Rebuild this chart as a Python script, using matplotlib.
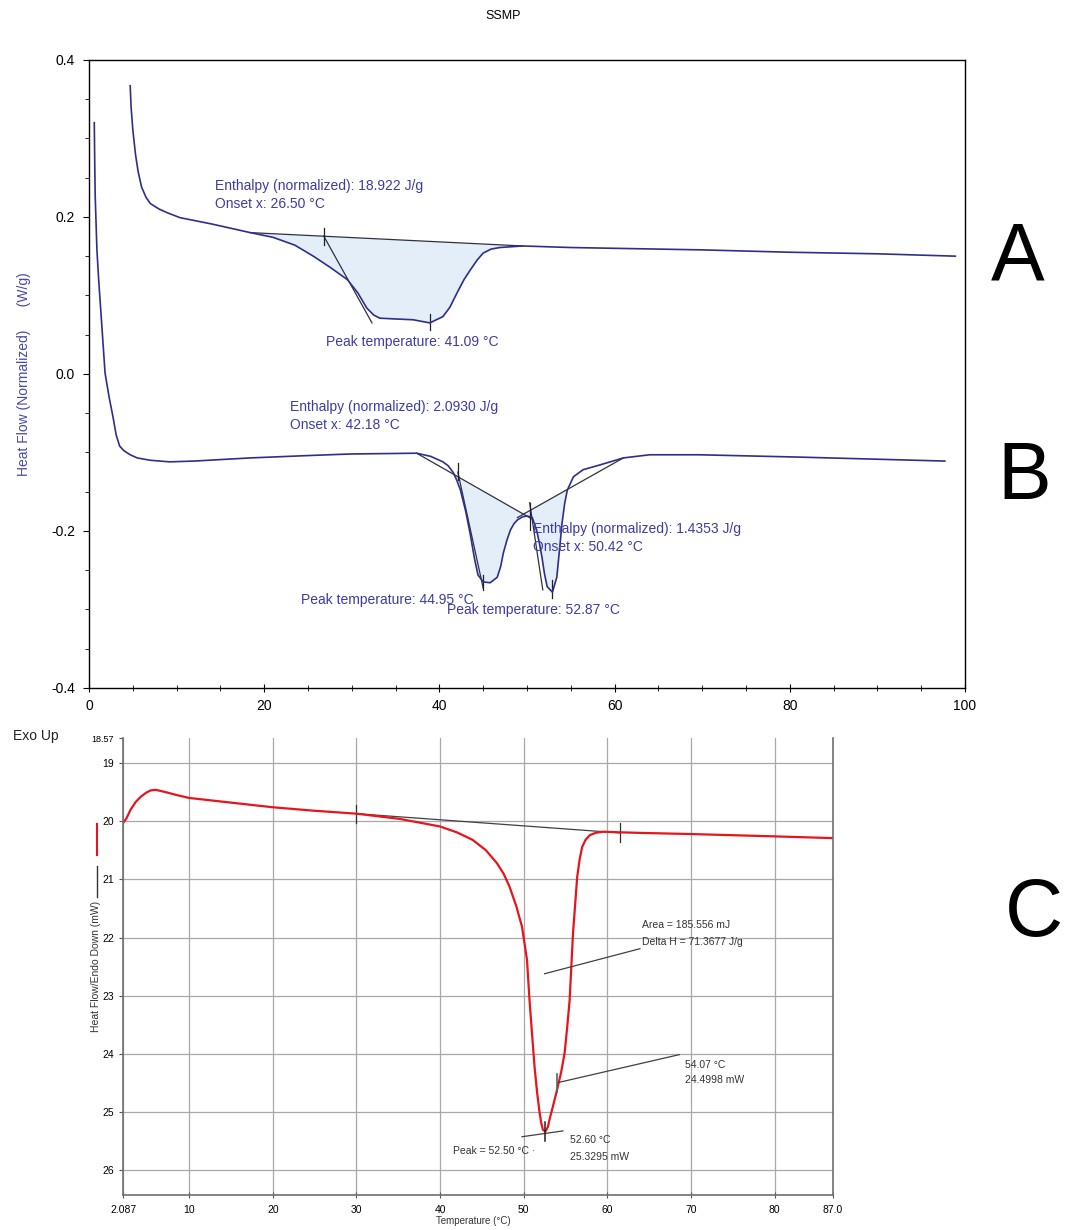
import numpy as np
import matplotlib
matplotlib.use("Agg")
import matplotlib.pyplot as plt
from matplotlib.lines import Line2D

plt.rcParams['font.family'] = ['Liberation Sans', 'DejaVu Sans']

# ---- top panel: SSMP, normalized heat flow (W/g) ----
a_temp = [4.7, 4.8, 5.0, 5.3, 5.6, 6.0, 6.5, 7.0, 8.0, 9.0, 10.4, 14.0, 18.4, 21.0,
          23.5, 25.6, 27.5, 29.5, 30.7, 31.7, 32.5, 33.2, 35.0, 37.0, 38.9, 40.4,
          41.2, 42.0, 42.8, 43.5, 44.3, 45.0, 45.9, 46.9, 49.5, 55.0, 60.0, 70.0,
          80.0, 90.0, 98.9]
a_flow = [0.367, 0.340, 0.311, 0.280, 0.258, 0.238, 0.225, 0.217, 0.210, 0.205, 0.199,
          0.191, 0.180, 0.174, 0.164, 0.150, 0.136, 0.120, 0.103, 0.084, 0.075, 0.071,
          0.070, 0.069, 0.065, 0.073, 0.085, 0.103, 0.120, 0.132, 0.145, 0.154, 0.159,
          0.161, 0.163, 0.161, 0.160, 0.158, 0.155, 0.153, 0.150]
a_base_x = [18.4, 49.5]
a_base_y = [0.180, 0.163]
a_tangent_x = [26.8, 32.3]
a_tangent_y = [0.1755, 0.065]

b_temp = [0.6, 0.65, 0.7, 0.9, 1.1, 1.26, 1.5, 1.83, 2.3, 2.74, 3.1, 3.5, 4.0, 4.7,
          5.5, 7.0, 9.2, 12.0, 18.4, 25.0, 29.8, 37.4, 39.0, 40.4, 41.0, 41.6, 42.0,
          42.4, 43.0, 43.5, 44.0, 44.4, 45.0, 45.8, 46.6, 47.0, 47.3, 47.7, 48.1, 48.5,
          48.9, 49.5, 50.0, 50.6, 51.1, 51.4, 51.7, 52.0, 52.3, 52.9, 53.4, 53.7, 54.0,
          54.3, 54.6, 55.3, 56.4, 58.3, 61.0, 64.0, 69.7, 81.2, 97.7]
b_flow = [0.320, 0.270, 0.228, 0.158, 0.120, 0.094, 0.055, 0.001, -0.030, -0.055,
          -0.078, -0.092, -0.098, -0.103, -0.107, -0.110, -0.112, -0.111, -0.107,
          -0.104, -0.102, -0.101, -0.105, -0.112, -0.117, -0.126, -0.136, -0.148,
          -0.175, -0.203, -0.235, -0.256, -0.265, -0.266, -0.259, -0.245, -0.228,
          -0.212, -0.199, -0.191, -0.186, -0.182, -0.181, -0.183, -0.199, -0.215,
          -0.233, -0.255, -0.271, -0.278, -0.259, -0.225, -0.190, -0.165, -0.148,
          -0.131, -0.122, -0.116, -0.107, -0.103, -0.103, -0.106, -0.111]
b1_base_x = [37.4, 50.6]
b1_base_y = [-0.101, -0.185]
b2_base_x = [48.9, 61.0]
b2_base_y = [-0.183, -0.107]
b1_tangent_x = [42.1, 45.0]
b1_tangent_y = [-0.125, -0.273]
b2_tangent_x = [50.3, 51.8]
b2_tangent_y = [-0.164, -0.275]

# small vertical marks (x, y_low, y_high)
top_marks = [(26.8, 0.164, 0.186), (38.9, 0.056, 0.076),
             (42.1, -0.135, -0.113), (45.0, -0.275, -0.256),
             (50.3, -0.199, -0.164), (52.9, -0.285, -0.262)]

# ---- bottom panel: DSC, heat flow (mW) ----
c_temp = [2.09, 2.5, 3.0, 3.6, 4.2, 4.85, 5.4, 6.0, 7.2, 8.5, 10.0, 15.0, 20.0, 25.0,
          30.0, 35.2, 40.0, 42.0, 43.9, 45.5, 46.8, 47.6, 48.3, 49.1, 49.8, 50.4, 50.7,
          51.0, 51.3, 51.6, 51.9, 52.1, 52.3, 52.6, 52.9, 53.1, 53.5, 54.0, 54.5, 54.9,
          55.2, 55.5, 55.7, 55.9, 56.2, 56.4, 56.7, 57.0, 57.4, 57.9, 58.6, 59.5, 61.5,
          63.9, 70.0, 80.0, 87.0]
c_flow = [20.03, 19.95, 19.80, 19.67, 19.58, 19.51, 19.47, 19.46, 19.50, 19.55, 19.60,
          19.68, 19.76, 19.82, 19.87, 19.96, 20.09, 20.19, 20.32, 20.50, 20.72, 20.90,
          21.12, 21.45, 21.81, 22.38, 23.07, 23.65, 24.21, 24.65, 25.00, 25.18, 25.30,
          25.33, 25.25, 25.12, 24.90, 24.61, 24.30, 23.98, 23.55, 23.07, 22.50, 21.93,
          21.35, 20.96, 20.65, 20.44, 20.32, 20.24, 20.20, 20.18, 20.19, 20.20, 20.22,
          20.26, 20.29]
c_base_x = [30.0, 61.5]
c_base_y = [19.87, 20.20]
c_xticks = [2.087, 10, 20, 30, 40, 50, 60, 70, 80, 87.0]
c_xticklabels = ['2.087', '10', '20', '30', '40', '50', '60', '70', '80', '87.0']
c_yticks = [18.57, 19, 20, 21, 22, 23, 24, 25, 26]
c_yticklabels = ['18.57', '19', '20', '21', '22', '23', '24', '25', '26']

navy = '#2e2e8e'
txt_blue = '#3c3ca4'
fill_col = '#e4eef9'

fig = plt.figure(figsize=(10.65, 12.3), dpi=100)

# ================= top panel =================
ax1 = fig.add_axes([0.0836, 0.4407, 0.8225, 0.5106])
a_t = np.array(a_temp)
a_f = np.array(a_flow)
b_t = np.array(b_temp)
b_f = np.array(b_flow)

m = (a_t >= a_base_x[0]) & (a_t <= a_base_x[1])
ax1.fill_between(a_t[m], a_f[m], np.interp(a_t[m], a_base_x, a_base_y),
                 color=fill_col, lw=0)
b_base = np.where(b_t < 50.0, np.interp(b_t, b1_base_x, b1_base_y),
                  np.interp(b_t, b2_base_x, b2_base_y))
mb = (b_t >= b1_base_x[0]) & (b_t <= b2_base_x[1])
ax1.fill_between(b_t, b_f, b_base, where=mb & (b_f <= b_base + 1e-4),
                 color=fill_col, lw=0, interpolate=True)

# baselines / tangents
for xs, ys in [(a_base_x, a_base_y), (a_tangent_x, a_tangent_y),
               (b1_base_x, b1_base_y), (b2_base_x, b2_base_y),
               (b1_tangent_x, b1_tangent_y), (b2_tangent_x, b2_tangent_y)]:
    ax1.plot(xs, ys, color='#303040', lw=0.9)
for x, y0, y1 in top_marks:
    ax1.plot([x, x], [y0, y1], color='#202020', lw=0.9)

ax1.plot(a_temp, a_flow, color=navy, lw=1.2)
ax1.plot(b_temp, b_flow, color=navy, lw=1.2)

ax1.set_xlim(0, 100)
ax1.set_ylim(-0.4, 0.4)
ax1.set_xticks(np.arange(0, 101, 20))
ax1.set_xticks(np.arange(0, 101, 5), minor=True)
ax1.set_yticks([-0.4, -0.2, 0.0, 0.2, 0.4])
ax1.set_yticklabels(['-0.4', '-0.2', '0.0', '0.2', '0.4'])
ax1.set_yticks(np.arange(-0.4, 0.41, 0.05), minor=True)
ax1.tick_params(axis='x', which='major', direction='inout', length=6, labelsize=10, pad=5)
ax1.tick_params(axis='x', which='minor', direction='inout', length=5)
ax1.tick_params(axis='y', which='major', direction='out', length=4, labelsize=10, pad=6)
ax1.tick_params(axis='y', which='minor', direction='out', length=3)
for s in ax1.spines.values():
    s.set_linewidth(1.0)
ax1.set_ylabel('Heat Flow (Normalized)      (W/g)', color='#4848aa', fontsize=10)
ax1.yaxis.set_label_coords(-0.066, 0.5)

fs_ann = 10
ax1.text(14.4, 0.248, 'Enthalpy (normalized): 18.922 J/g\nOnset x: 26.50 °C',
         color=txt_blue, fontsize=fs_ann, va='top', linespacing=1.35)
ax1.text(27.1, 0.041, 'Peak temperature: 41.09 °C', color=txt_blue,
         fontsize=fs_ann, va='center')
ax1.text(22.9, -0.033, 'Enthalpy (normalized): 2.0930 J/g\nOnset x: 42.18 °C',
         color=txt_blue, fontsize=fs_ann, va='top', linespacing=1.35)
ax1.text(50.7, -0.189, 'Enthalpy (normalized): 1.4353 J/g\nOnset x: 50.42 °C',
         color=txt_blue, fontsize=fs_ann, va='top', linespacing=1.35)
ax1.text(24.2, -0.288, 'Peak temperature: 44.95 °C', color=txt_blue,
         fontsize=fs_ann, va='center')
ax1.text(40.9, -0.301, 'Peak temperature: 52.87 °C', color=txt_blue,
         fontsize=fs_ann, va='center')

# ================= bottom panel =================
ax2 = fig.add_axes([0.1155, 0.0285, 0.6667, 0.3715])
ax2.set_xlim(2.087, 87.0)
ax2.set_ylim(26.42, 18.57)
ax2.set_xticks(c_xticks)
ax2.set_xticklabels(c_xticklabels)
ax2.set_yticks(c_yticks)
ax2.set_yticklabels(c_yticklabels)
ax2.grid(True, color='#a8a8a8', lw=0.9)
ax2.get_ygridlines()[0].set_visible(False)
ax2.set_axisbelow(True)
ax2.spines['top'].set_visible(False)
for s in ['left', 'bottom', 'right']:
    ax2.spines[s].set_color('#707070')
    ax2.spines[s].set_linewidth(1.2)
ax2.tick_params(axis='both', labelsize=7.5, color='#555555', length=3)
ax2.tick_params(axis='x', direction='inout', length=5, pad=5)
ax2.get_yticklabels()[0].set_fontsize(6.5)

ax2.plot(c_base_x, c_base_y, color='#404040', lw=0.9)
ax2.plot([30.0, 30.0], [19.72, 20.03], color='#303030', lw=0.9)
ax2.plot([61.5, 61.5], [20.03, 20.35], color='#303030', lw=0.9)
ax2.plot(c_temp, c_flow, color='#e8141c', lw=1.6)

# annotation leaders
ax2.plot([52.5, 63.9], [22.62, 22.19], color='#404040', lw=0.9)
ax2.plot([54.1, 68.6], [24.49, 24.01], color='#404040', lw=0.9)
ax2.plot([54.0, 54.0], [24.35, 24.66], color='#606060', lw=1.2)
ax2.plot([49.8, 54.7], [25.42, 25.32], color='#404040', lw=0.9)
ax2.plot([52.6, 52.6], [25.17, 25.50], color='#202020', lw=1.1)

fs_c = 7.5
ax2.text(64.2, 21.78, 'Area = 185.556 mJ', fontsize=fs_c, va='center', color='#333333')
ax2.text(64.2, 22.07, 'Delta H = 71.3677 J/g', fontsize=fs_c, va='center', color='#333333')
ax2.text(69.3, 24.18, '54.07 °C', fontsize=fs_c, va='center', color='#333333')
ax2.text(69.3, 24.45, '24.4998 mW', fontsize=fs_c, va='center', color='#333333')
ax2.text(41.5, 25.66, 'Peak = 52.50 °C ·', fontsize=fs_c, va='center', color='#333333')
ax2.text(55.5, 25.48, '52.60 °C', fontsize=fs_c, va='center', color='#333333')
ax2.text(55.5, 25.76, '25.3295 mW', fontsize=fs_c, va='center', color='#333333')

ax2.set_ylabel('Heat Flow/Endo Down (mW)', fontsize=7.5, color='#333333')
ax2.yaxis.set_label_coords(-0.031, 0.5)
ax2.set_xlabel('Temperature (°C)', fontsize=7, color='#333333')
ax2.xaxis.set_label_coords(0.493, -0.045)

# legend swatches beside the y label
fig.add_artist(Line2D([97 / 1065] * 2, [1 - 824 / 1230, 1 - 855 / 1230],
                      color='#e8141c', lw=1.5, transform=fig.transFigure))
fig.add_artist(Line2D([97 / 1065] * 2, [1 - 866 / 1230, 1 - 897 / 1230],
                      color='#333333', lw=1.0, transform=fig.transFigure))

fig.text(13 / 1065, 1 - 736 / 1230, 'Exo Up', fontsize=10, va='center', color='#222222')
fig.text(503 / 1065, 1 - 16 / 1230, 'SSMP', fontsize=9, ha='center', va='center')
fig.text(1018 / 1065, 1 - 258 / 1230, 'A', fontsize=58, ha='center', va='center')
fig.text(1024 / 1065, 1 - 478 / 1230, 'B', fontsize=58, ha='center', va='center')
fig.text(1034 / 1065, 1 - 915 / 1230, 'C', fontsize=58, ha='center', va='center')

fig.savefig('out.png', dpi=100)
